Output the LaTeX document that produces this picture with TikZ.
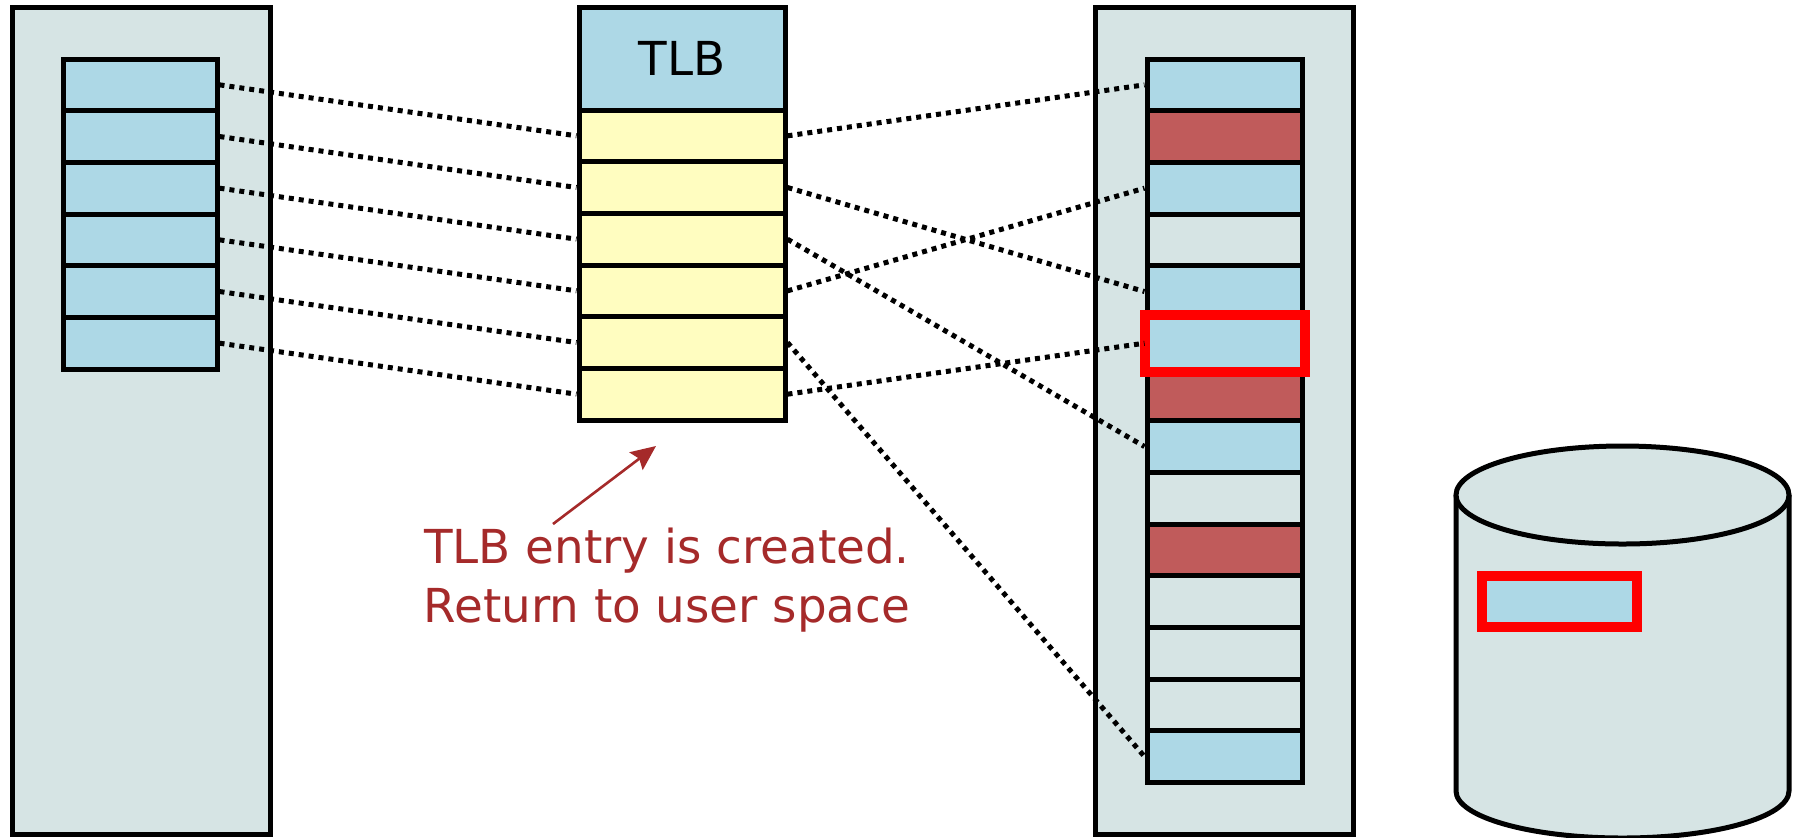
\documentclass[tikz,border=0pt]{standalone}
\usepackage{fontspec}
\setmainfont{DejaVu Sans}
\usetikzlibrary{arrows.meta}
\definecolor{panelgrey}{RGB}{214,228,228}
\definecolor{cellblue}{RGB}{173,216,230}
\definecolor{cellred}{RGB}{192,91,91}
\definecolor{cellyellow}{RGB}{255,253,192}
\definecolor{notebrown}{RGB}{165,42,42}
\begin{document}
\begin{tikzpicture}[x=0.5pt,y=-0.5pt,
  panel/.style={draw=black, line width=2.5pt, fill=panelgrey, inner sep=0pt, minimum width=129pt, minimum height=413.5pt},
  cell/.style={draw=black, line width=2.5pt, inner sep=0pt, minimum height=25.83pt},
  link/.style={draw=black, line width=2.5pt, dash pattern=on 2.5pt off 2.5pt},
  hilite/.style={draw=red, line width=5pt},
  every node/.style={font=\fontsize{23.4}{29.5}\selectfont}]
\useasboundingbox (0,0) rectangle (1799,837);

% memory panels
\node[panel] (lmem) at (141,420.5) {};
\node[panel] (rmem) at (1224,420.5) {};

% left column (virtual pages)
\foreach \i in {1,...,6}
  \node[cell, minimum width=77pt, fill=cellblue] (L\i) at (140,{59+(\i-0.5)*51.67}) {};

% TLB
\node[cell, minimum width=103pt, minimum height=51.5pt, fill=cellblue] (tlbhead) at (682,58.5) {TLB};
\foreach \i in {1,...,6}
  \node[cell, minimum width=103pt, fill=cellyellow] (T\i) at (682,{110+(\i-0.5)*51.67}) {};

% right column (physical frames)
\foreach \i/\c in {1/cellblue,2/cellred,3/cellblue,4/panelgrey,5/cellblue,6/cellblue,7/cellred,8/cellblue,9/panelgrey,10/cellred,11/panelgrey,12/panelgrey,13/panelgrey,14/cellblue}
  \node[cell, minimum width=77.5pt, fill=\c] (R\i) at (1224.5,{59+(\i-0.5)*51.67}) {};
\draw[hilite] (R6.south west) rectangle (R6.north east);

% disk (cylinder)
\fill[panelgrey] (1456,495) -- (1456,791) arc[start angle=180,end angle=360,x radius=83.25pt,y radius=23.5pt] -- (1789,495) -- cycle;
\draw[line width=2.5pt] (1456,495) -- (1456,791) arc[start angle=180,end angle=360,x radius=83.25pt,y radius=23.5pt] -- (1789,495);
\draw[line width=2.5pt, fill=panelgrey] (1622.5,495) ellipse [x radius=83.25pt, y radius=24.5pt];
\node[inner sep=0pt, minimum width=77.5pt, minimum height=25.5pt, fill=cellblue, hilite] (D) at (1559.5,601.5) {};

% links
\foreach \i in {1,...,6}
  \draw[link] (L\i.east) -- (T\i.west);
\foreach \a/\b in {1/1,2/5,3/8,4/3,5/14,6/6}
  \draw[link] (T\a.east) -- (R\b.west);

% note
\node[text=notebrown, align=center, anchor=base, inner sep=0pt] (note) at (667,622) {TLB entry is created.\\Return to user space};
\coordinate (ntail) at (553,524);
\coordinate (ntip) at (656,446);
\draw[notebrown, line width=1.3pt, -{Stealth[length=12.5pt,width=11pt,inset=2pt]}] (ntail) -- (ntip);
\end{tikzpicture}
\end{document}
